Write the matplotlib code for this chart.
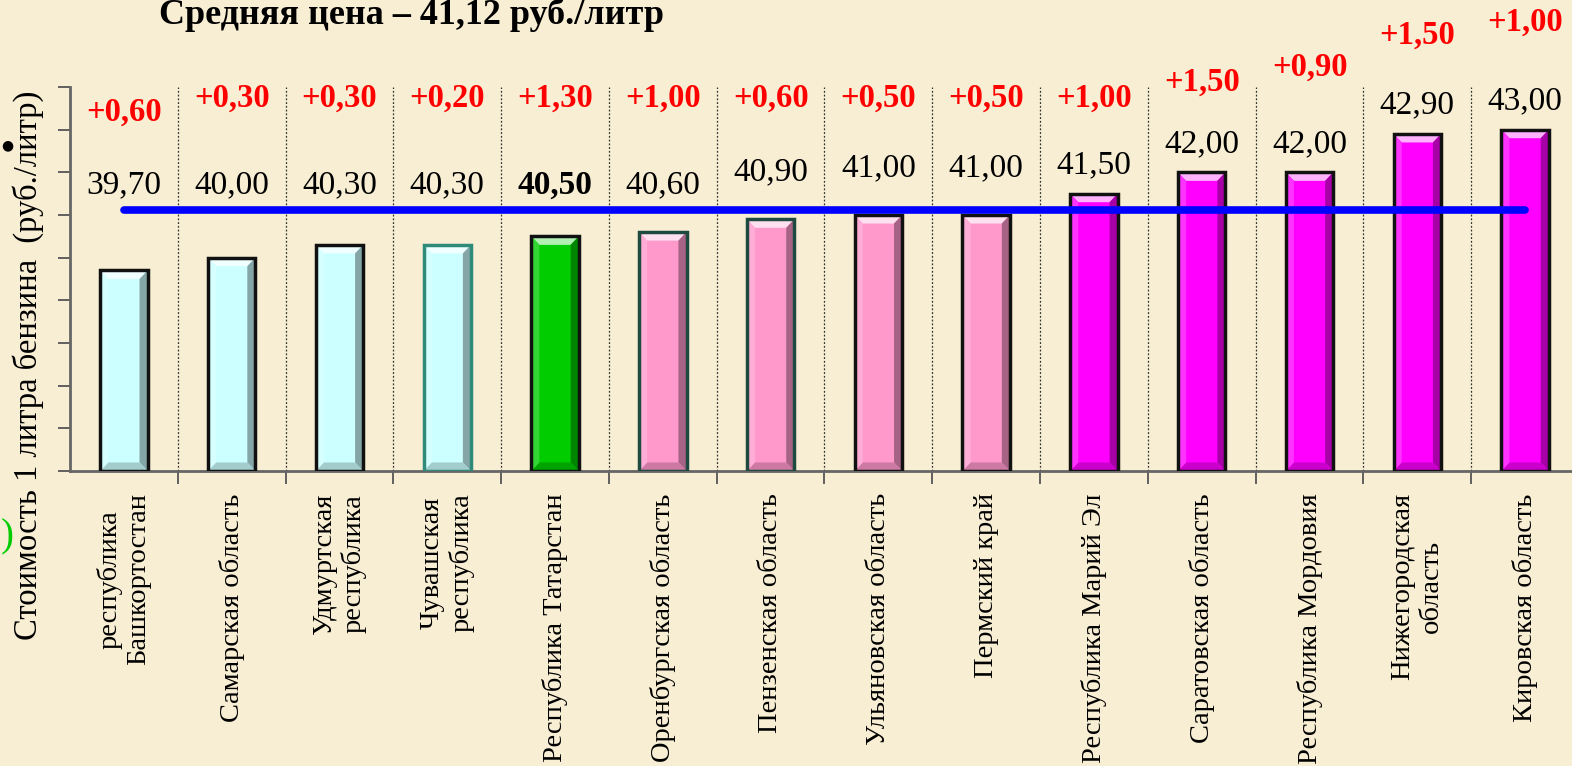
import numpy as np
import matplotlib
matplotlib.use('Agg')
import matplotlib.pyplot as plt
from matplotlib.patches import Polygon
from matplotlib.colors import to_rgb

plt.rcParams['font.family'] = ['Liberation Serif', 'DejaVu Serif']

# data
regions = ['республика\nБашкортостан', 'Самарская область', 'Удмуртская\nреспублика',
           'Чувашская\nреспублика', 'Республика Татарстан', 'Оренбургская область',
           'Пензенская область', 'Ульяновская область', 'Пермский край',
           'Республика Марий Эл', 'Саратовская область', 'Республика Мордовия',
           'Нижегородская\nобласть', 'Кировская область']
prices = [39.70, 40.00, 40.30, 40.30, 40.50, 40.60, 40.90, 41.00, 41.00,
          41.50, 42.00, 42.00, 42.90, 43.00]
growth = [0.60, 0.30, 0.30, 0.20, 1.30, 1.00, 0.60, 0.50, 0.50,
          1.00, 1.50, 0.90, 1.50, 1.00]
mean_price = 41.12
highlight = 'Республика Татарстан'

# styling
groups = ['c'] * 4 + ['g'] + ['p'] * 4 + ['m'] * 5
face = {'c': '#CCFFFF', 'g': '#00CC00', 'p': '#FF99CC', 'm': '#FF00FF'}
edge_cols = ['#111111', '#111111', '#111111', '#2E8B7A', '#111111', '#1E4A40',
             '#1E4A40', '#111111', '#111111', '#111111', '#111111', '#111111',
             '#111111', '#111111']
# height of red growth labels (manually placed on the slide)
growth_y = [43.41, 43.74, 43.74, 43.74, 43.74, 43.74, 43.74, 43.74, 43.74,
            43.74, 44.11, 44.46, 45.21, 45.52]

def fmt(v):
    return f'{v:.2f}'.replace('.', ',')

def mix(c, t, k):
    a = np.array(to_rgb(c)); b = np.array(to_rgb(t))
    return tuple(a * (1 - k) + b * k)

bg = '#F8EED3'
fig = plt.figure(figsize=(15.72, 7.66), dpi=100, facecolor=bg)
ax = fig.add_axes([70 / 1572, 1 - 471 / 766, 1509 / 1572, 384 / 766])
ax.set_facecolor('none')

x = np.arange(len(regions))
cols = [face[g] for g in groups]
bw = 0.44
bars = ax.bar(x, [p - 35 for p in prices], bottom=35, width=bw, color=cols,
              linewidth=0, zorder=2)

# bevel effect derived from each bar rectangle
bx, by = 0.075, 0.2
for r, c in zip(bars, cols):
    x0, w = r.get_x(), r.get_width()
    y0 = r.get_y(); y1 = y0 + r.get_height()
    x1 = x0 + w
    ax.add_patch(Polygon([(x0, y1), (x1, y1), (x1 - bx, y1 - by), (x0 + bx, y1 - by)],
                         closed=True, color=mix(c, 'white', 0.7), lw=0, zorder=2.2))
    ax.add_patch(Polygon([(x1, y1), (x1, y0), (x1 - bx, y0 + by), (x1 - bx, y1 - by)],
                         closed=True, color=mix(c, 'black', 0.35), lw=0, zorder=2.2))
    ax.add_patch(Polygon([(x0, y0), (x1, y0), (x1 - bx, y0 + by), (x0 + bx, y0 + by)],
                         closed=True, color=mix(c, 'black', 0.2), lw=0, zorder=2.2))
    ax.add_patch(Polygon([(x0, y1), (x0, y0), (x0 + bx, y0 + by), (x0 + bx, y1 - by)],
                         closed=True, color=mix(c, 'white', 0.2), lw=0, zorder=2.2))
ax.bar(x, [p - 35 for p in prices], bottom=35, width=bw, fill=False,
       edgecolor=edge_cols, linewidth=2.5, zorder=3)

# average line
ax.plot([x[0], x[-1]], [mean_price, mean_price], color='#0000FF', lw=5.5,
        solid_capstyle='round', zorder=4)

# value labels and growth labels
for i, (p, g, name) in enumerate(zip(prices, growth, regions)):
    ly = max(p + 0.67, 41.7 + np.clip(p - 40.6, 0, 0.4))
    ax.text(i, ly, fmt(p), ha='center', va='center', fontsize=24,
            fontweight='bold' if name == highlight else 'normal', color='black')
    ax.text(i, growth_y[i], '+' + fmt(g), ha='center', va='center', fontsize=23.5,
            fontweight='bold', color='#FF0000', clip_on=False)

ax.set_xlim(-0.5, len(regions) - 0.5)
ax.set_ylim(35, 44)
ax.set_yticks(np.arange(35, 45, 1))
ax.set_yticklabels([])
ax.tick_params(axis='y', length=9, width=1.3, color='#555555')

ax.set_xticks(x)
ax.set_xticklabels(regions, rotation=90, fontsize=20.5, ha='center', va='top',
                   multialignment='center')
ax.tick_params(axis='x', which='major', length=0, pad=16)
ax.set_xticks(np.arange(0.5, len(regions) - 0.5, 1), minor=True)
ax.tick_params(axis='x', which='minor', length=9, width=1.3, color='#555555')
ax.grid(axis='x', which='minor', color='#333333', linestyle=(0, (1.5, 1.5)), lw=0.9)

for s in ['top', 'right']:
    ax.spines[s].set_visible(False)
for s in ['left', 'bottom']:
    ax.spines[s].set_color('#666666')
    ax.spines[s].set_linewidth(2)

fig.text(28 / 1572, 1 - 365 / 766, 'Стоимость 1 литра бензина  (руб./литр)',
         rotation=90, ha='center', va='center', fontsize=23.5)
fig.text(411 / 1572, 1 - 24 / 766, 'Средняя цена – 41,12 руб./литр',
         ha='center', va='baseline', fontsize=26, fontweight='bold')

# fragments of other slide elements at the left edge
fig.text(1 / 1572, 1 - 145 / 766, '●', ha='left', va='center', fontsize=10,
         color='black', family='DejaVu Sans')
fig.text(1 / 1572, 1 - 537 / 766, ')', ha='left', va='center', fontsize=28,
         color='#00CC00')

fig.savefig('out.png', dpi=100, facecolor=bg)
